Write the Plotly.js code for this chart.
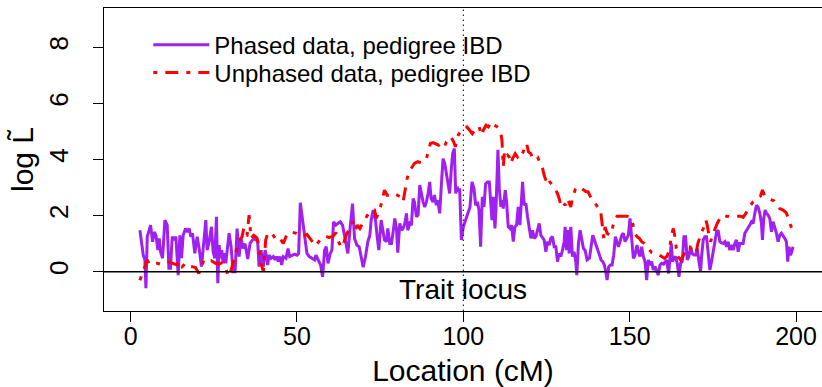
<!DOCTYPE html>
<html>
<head>
<meta charset="utf-8">
<script src="https://cdn.plot.ly/plotly-3.0.1.min.js"></script>
<style>html,body{margin:0;padding:0;background:#fff;}#plot{width:822px;height:387px;}</style>
</head>
<body>
<div id="plot"></div>
<script>
// Phased data, pedigree IBD (purple)
const phasedX = [2.8,3.8,4.3,4.6,5.0,6.0,6.6,7.1,7.6,8.2,8.6,9.0,9.6,10.3,11.0,11.5,12.0,12.5,13.0,13.6,14.3,14.8,15.3,15.8,16.5,17.1,17.6,18.1,18.6,19.3,20.0,20.6,21.3,22.0,22.6,23.0,23.6,24.3,24.8,25.3,25.8,26.2,26.6,27.0,27.4,27.8,28.2,28.6,29.1,29.6,30.2,30.8,31.4,32.0,32.6,33.2,33.8,34.4,35.2,35.9,36.6,37.4,38.2,38.6,39.2,39.9,40.4,40.9,41.2,41.6,42.2,42.9,43.4,43.9,44.4,44.9,45.4,45.9,46.7,47.3,47.8,48.5,49.3,50.0,50.5,51.0,51.7,52.3,53.0,53.7,54.5,55.3,55.7,56.5,57.1,57.7,58.3,58.8,59.3,60.0,60.5,61.0,61.7,62.3,63.0,63.7,64.5,65.3,66.0,66.7,67.3,68.0,68.7,69.3,69.9,70.6,71.3,71.9,72.3,72.9,73.6,74.1,74.6,75.3,75.9,76.3,76.9,77.3,77.9,78.4,78.9,79.4,79.9,80.3,80.9,81.4,81.9,82.4,82.9,83.3,83.9,84.4,84.9,85.3,85.9,86.4,86.9,87.4,87.9,88.4,88.9,89.4,89.9,90.3,90.9,91.3,91.9,92.3,92.9,93.3,93.9,94.4,94.9,95.3,95.9,96.4,96.8,97.3,97.7,98.1,98.6,98.9,99.4,100.0,100.7,101.4,102.0,102.6,103.2,103.7,104.2,104.7,105.2,105.7,106.2,106.7,107.3,107.8,108.3,108.6,109.0,109.5,109.8,110.4,110.8,111.3,111.6,112.0,112.6,113.0,113.5,114.0,114.5,115.0,115.5,116.0,116.5,117.0,117.5,117.8,118.3,118.8,119.3,119.8,120.3,120.8,121.3,121.8,122.3,122.8,123.3,123.8,124.3,124.8,125.3,125.8,126.3,126.8,127.3,127.8,128.3,128.8,129.3,129.8,130.3,130.6,131.0,131.4,131.8,132.3,132.8,133.3,133.8,134.1,134.6,135.1,135.6,136.1,136.6,137.2,137.9,138.4,138.9,139.4,139.9,140.4,140.9,141.4,141.9,142.4,142.9,143.2,143.7,144.2,144.7,145.2,145.7,146.2,146.6,147.1,147.6,148.1,148.6,149.1,149.6,150.1,150.6,151.1,151.6,152.2,152.6,153.1,153.6,154.1,154.6,155.1,155.6,156.1,156.6,157.1,157.6,158.1,158.6,159.1,159.6,160.2,160.6,161.1,161.7,162.2,162.5,162.9,163.3,163.8,164.3,164.8,165.3,165.8,166.3,166.8,167.3,167.8,168.3,168.8,169.3,169.9,170.3,170.9,171.3,171.6,172.1,172.6,173.1,173.6,174.1,174.6,175.1,175.6,176.1,176.6,177.1,177.6,178.1,178.6,179.1,179.6,180.1,180.6,181.1,181.6,182.1,182.6,183.1,183.6,184.1,184.6,185.1,185.6,186.1,186.6,187.1,187.6,188.1,188.6,189.1,189.6,189.9,190.3,190.7,191.1,191.6,192.1,192.6,193.1,193.6,194.1,194.6,195.1,195.6,196.1,196.6,197.1,197.5,197.9,198.3,198.7,199.1];
const phasedY = [1.48,0.59,0.42,-0.59,1.25,1.66,1.07,1.42,1.3,0.77,1.19,0.71,0.48,1.84,1.66,0.12,0.12,1.25,1.13,1.25,-0.12,1.3,0.48,1.3,1.54,1.42,1.54,1.25,1.37,0.66,1.25,0.83,0.18,1.19,1.84,0.77,1.07,1.6,0.71,0.48,1.96,-0.41,0.95,0.48,0.77,0.3,0.66,0.3,0.89,1.37,0.89,0.0,0.0,1.54,0.54,1.19,0.83,1.0,0.45,1.01,1.13,1.19,1.07,0.18,0.77,0.18,0.77,0.54,0.24,0.59,0.48,0.54,0.42,0.54,0.36,0.54,0.24,0.54,0.48,0.83,0.54,0.59,0.63,0.59,0.65,2.46,1.84,1.19,0.65,0.54,0.48,0.42,0.59,0.36,0.24,-0.18,0.77,0.89,0.3,0.65,0.77,1.78,1.66,1.72,1.78,1.66,1.13,0.65,1.6,2.43,1.19,0.95,0.89,0.48,0.16,0.54,1.07,1.3,1.84,2.2,1.84,1.25,0.77,1.84,1.37,1.13,1.07,1.54,1.01,1.01,1.42,1.9,1.54,0.68,1.72,1.48,1.54,1.72,2.08,1.48,1.72,1.66,2.61,2.49,1.96,2.02,3.09,2.73,2.49,2.31,2.49,2.79,3.2,2.61,2.49,2.73,2.37,2.55,2.08,2.91,4.03,3.86,3.5,3.26,2.79,3.68,4.21,4.39,2.79,3.03,2.85,2.97,1.13,1.6,1.84,2.08,2.31,3.2,2.97,2.37,2.49,2.2,0.89,2.67,2.31,3.14,3.2,3.2,2.31,1.84,2.67,1.54,2.2,4.35,2.97,2.31,2.55,2.25,2.91,2.49,1.6,1.54,1.66,1.07,1.6,1.66,2.31,1.66,2.61,3.2,2.37,2.43,1.96,1.6,1.19,1.48,1.19,1.25,1.48,1.72,1.3,1.19,1.13,0.71,1.07,0.95,1.19,1.25,0.89,0.89,0.36,0.65,0.54,0.77,1.07,1.6,0.77,1.48,0.65,1.6,0.54,0.71,0.36,-0.12,1.01,1.48,1.2,0.83,0.77,0.42,0.48,0.95,1.3,1.13,0.95,0.77,0.65,0.42,0.36,0.24,-0.06,-0.3,0.18,0.24,0.24,0.59,1.25,1.07,0.89,1.07,1.3,1.37,1.07,1.19,1.3,1.9,1.13,0.48,0.59,0.95,0.71,0.54,0.89,0.54,0.36,-0.3,0.42,0.24,0.36,0.06,0.18,0.0,-0.12,0.24,0.3,0.27,0.32,0.42,-0.06,0.77,1.01,0.36,0.48,0.54,0.3,-0.18,0.3,0.36,1.25,1.25,0.42,0.54,0.89,0.65,0.6,0.6,0.83,0.3,0.0,0.54,1.13,1.25,1.25,0.65,0.06,0.36,0.77,1.19,1.42,1.48,1.07,1.03,1.01,1.07,0.89,1.07,0.77,0.95,0.77,1.01,1.13,0.71,1.01,1.01,1.01,1.37,1.46,1.54,1.66,1.78,1.72,2.08,2.37,2.31,2.08,1.72,1.13,1.9,2.2,2.08,2.02,1.9,1.42,1.78,1.6,1.37,1.07,1.3,1.37,1.3,1.19,1.07,0.36,0.89,0.59,0.71,0.89];

// Unphased data, pedigree IBD (red, dot-dash)
const unphasedX = [2.8,3.4,4.2,5.0,5.6,6.3,7.2,8.0,9.0,10.0,11.0,12.0,13.0,14.0,14.8,15.5,16.5,17.5,18.5,19.5,20.5,21.3,22.0,23.0,24.3,25.5,26.5,27.5,28.5,29.5,30.3,31.0,31.8,32.5,33.5,34.0,34.4,35.0,35.6,36.2,37.0,38.0,38.6,39.2,39.9,40.6,41.2,42.2,43.2,43.9,44.9,45.9,46.7,47.3,47.9,48.9,49.9,51.0,52.0,53.0,54.0,55.0,55.7,56.5,57.5,58.5,59.5,60.7,61.7,62.5,63.3,64.0,65.0,66.0,66.7,67.5,68.1,68.9,69.6,70.2,70.9,71.6,72.6,73.3,73.9,74.6,75.1,75.6,76.3,77.1,78.1,79.1,80.1,81.1,81.9,82.4,83.1,83.6,84.3,85.3,86.3,87.3,88.1,88.9,89.6,90.1,90.9,91.9,92.6,93.3,94.3,94.9,95.6,96.3,97.1,97.6,98.1,98.6,99.4,100.1,101.1,102.2,102.7,103.7,104.7,105.5,106.0,106.8,107.5,108.2,108.7,109.3,110.0,110.6,111.3,111.6,111.8,112.0,112.3,112.8,113.3,113.8,114.3,114.8,115.6,116.3,117.0,117.6,118.3,119.0,119.6,120.3,120.8,121.6,122.3,123.0,123.8,124.3,124.8,125.4,126.0,126.8,127.6,128.3,128.8,129.3,129.8,130.6,131.3,131.8,132.3,132.9,133.6,134.3,134.8,135.6,136.2,136.9,137.5,138.2,138.9,139.6,140.4,141.2,141.6,141.9,142.2,142.6,143.2,143.9,144.6,144.9,145.4,146.2,147.2,148.2,149.2,150.2,150.9,151.4,152.2,152.9,153.6,154.4,155.2,155.9,156.6,157.6,158.6,159.6,160.4,161.2,161.9,162.7,163.1,163.7,164.0,164.5,165.3,166.0,166.7,167.3,168.0,168.7,169.4,170.0,170.5,171.3,172.1,172.9,173.3,173.9,174.3,174.9,175.6,176.3,177.1,177.9,179.1,180.3,181.3,182.3,183.3,184.1,184.9,185.6,186.3,187.1,187.9,188.6,189.3,189.9,190.6,191.3,192.3,193.3,194.3,195.1,196.1,197.1,197.6,198.1,198.7];
const unphasedY = [-0.3,-0.1,0.1,0.42,0.28,0.32,0.3,0.3,0.27,0.3,0.36,0.32,0.3,0.24,0.39,0.18,0.3,0.2,0.18,0.15,-0.06,0.15,0.42,0.36,0.39,0.3,0.27,0.32,0.15,-0.18,0.1,0.45,0.77,1.07,1.25,1.54,1.31,1.3,2.02,1.19,1.3,1.2,0.89,0.3,0.0,1.13,1.37,1.4,1.25,1.13,1.19,1.01,1.25,1.37,1.42,1.39,1.37,1.27,1.27,1.33,1.15,1.01,0.92,1.07,1.19,1.27,1.22,1.25,1.39,1.07,0.86,1.01,1.37,1.54,1.78,1.48,1.66,1.54,1.7,1.78,1.96,2.08,2.2,2.2,1.9,2.2,2.31,2.55,2.91,2.73,2.73,2.79,2.73,2.67,2.49,2.91,3.32,3.5,3.68,3.86,3.92,3.88,3.92,4.03,4.33,4.57,4.6,4.55,4.51,4.57,4.45,4.63,4.66,4.8,4.63,4.45,4.75,4.9,5.04,5.14,5.16,5.0,4.92,5.1,5.18,4.86,5.04,5.22,5.16,5.28,5.34,5.22,5.18,5.07,4.92,4.69,4.09,3.74,4.21,4.03,4.15,4.09,3.86,4.03,4.21,4.09,4.21,4.15,4.39,4.57,4.27,4.21,4.03,4.09,4.09,3.92,3.68,3.44,3.26,3.38,3.2,3.09,2.91,2.79,2.61,2.37,2.49,2.37,2.61,2.43,2.31,2.67,2.91,2.85,2.91,2.97,2.91,2.85,2.85,2.67,2.49,2.43,2.31,2.25,1.84,1.48,1.19,1.6,1.37,1.31,1.37,1.6,1.84,1.98,1.98,1.96,1.98,1.94,1.72,1.42,1.25,1.19,1.07,1.01,0.89,0.77,0.68,0.63,0.62,0.54,0.48,0.54,0.77,1.37,1.54,1.19,0.83,0.54,0.42,0.54,0.71,0.89,0.89,0.77,0.65,0.7,1.01,1.31,1.54,1.84,1.66,1.25,1.07,1.3,1.54,1.72,1.9,2.02,1.98,1.96,1.96,1.98,1.98,1.94,2.08,2.2,2.37,2.49,2.55,2.61,2.69,2.91,2.69,2.61,2.58,2.53,2.37,2.25,2.2,2.1,1.9,1.72,1.54];

const xTicks = [0, 50, 100, 150, 200];
const yTicks = [0, 2, 4, 6, 8];
const seriesNames = ["Phased data, pedigree IBD", "Unphased data, pedigree IBD"];
const xTitle = "Location (cM)";
const yTitle = "log L\u0303";
const locusLabel = "Trait locus";
const locusPos = 100;

const FONT = "Liberation Sans, Arial, Helvetica, sans-serif";
const W = 822, PLOT_LEFT = 104, LABEL_AXIS_X = 73;
const yRange = [-1.4, 9.4];

const traces = [
  {x: phasedX, y: phasedY, type: "scatter", mode: "lines", name: seriesNames[0], legend: "legend",
   line: {color: "#A020F0", width: 3}},
  {x: unphasedX, y: unphasedY, type: "scatter", mode: "lines", name: seriesNames[1], legend: "legend2",
   xaxis: "x", yaxis: "y2",
   line: {color: "#FF0000", width: 3, dash: "4px,8px,13px,8px"}}
];

const legendCommon = {xanchor: "left", yanchor: "top", bgcolor: "rgba(0,0,0,0)",
                      font: {size: 24}, itemwidth: 56, tracegroupgap: 0};
const dom0 = PLOT_LEFT / W;

const layout = {
  width: W, height: 387,
  margin: {l: 0, r: 0, t: 7.5, b: 76, pad: 0},
  paper_bgcolor: "#fff", plot_bgcolor: "#fff",
  font: {family: FONT, color: "#000", size: 24},
  showlegend: true,
  legend: Object.assign({x: dom0 + 0.0617 * (1 - dom0), y: 0.952}, legendCommon),
  legend2: Object.assign({x: dom0 + 0.0617 * (1 - dom0), y: 0.86}, legendCommon),
  xaxis: {domain: [dom0, 1], range: [-8, 207.8], tickmode: "array", tickvals: xTicks, ticktext: xTicks.map(String),
          ticks: "outside", ticklen: 10, tickwidth: 1, tickcolor: "#000",
          showline: true, mirror: true, linecolor: "#000", linewidth: 1,
          showgrid: false, zeroline: false, tickfont: {size: 25}, ticklabelstandoff: -7,
          title: {text: xTitle, font: {size: 30}, standoff: 10}},
  yaxis: {range: yRange, tickmode: "array", tickvals: yTicks,
          ticks: "outside", ticklen: 10, tickwidth: 1, tickcolor: "#000",
          showline: true, mirror: false, linecolor: "#000", linewidth: 1,
          showgrid: false, zeroline: false, showticklabels: false},
  yaxis2: {overlaying: "y", anchor: "free", position: LABEL_AXIS_X / W, side: "left",
           range: yRange, tickmode: "array", tickvals: yTicks, ticktext: yTicks.map(String),
           ticks: "", showline: false, showgrid: false, zeroline: false, tickangle: -90,
           tickfont: {size: 26}, title: {text: yTitle, font: {size: 30}, standoff: 0}},
  shapes: [
    {type: "line", xref: "paper", yref: "y", x0: dom0, x1: 1, y0: 0, y1: 0,
     line: {color: "#000", width: 1.5}},
    {type: "line", xref: "x", yref: "paper", x0: locusPos, x1: locusPos, y0: 0, y1: 1,
     line: {color: "#000", width: 1, dash: "1.5px,3.5px"}}
  ],
  annotations: [
    {x: locusPos, y: -0.65, xref: "x", yref: "y", text: locusLabel, showarrow: false,
     font: {size: 28, color: "#000"}, xanchor: "center", yanchor: "middle"}
  ]
};

Plotly.newPlot("plot", traces, layout, {staticPlot: true, displayModeBar: false});
</script>
</body>
</html>
